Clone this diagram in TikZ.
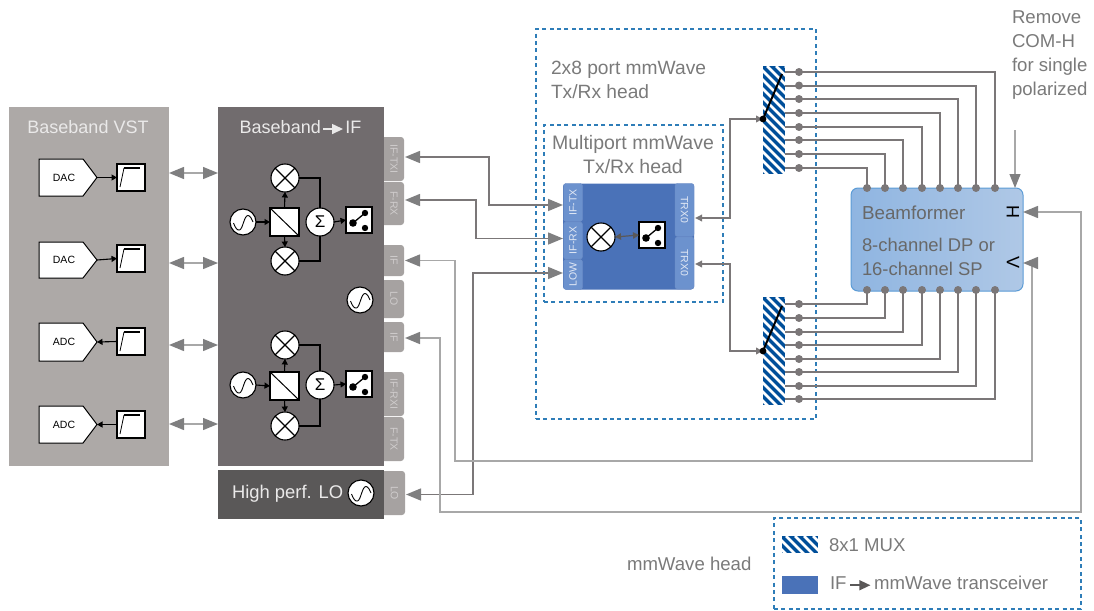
\documentclass[tikz,border=0pt]{standalone}
\usepackage{fontspec}
\usepackage{graphicx}
\setmainfont{Liberation Sans}
\usetikzlibrary{arrows.meta,calc}
\definecolor{txtg}{HTML}{7A7A7A}
\definecolor{vstg}{HTML}{ADA9A7}
\definecolor{bbg}{HTML}{716C6E}
\definecolor{hpg}{HTML}{5A5858}
\definecolor{tabg}{HTML}{A6A2A1}
\definecolor{tabt}{HTML}{CFCCCC}
\definecolor{dashb}{HTML}{2E7DB8}
\definecolor{hatchb}{HTML}{004F9A}
\definecolor{trc}{HTML}{4A72B8}
\definecolor{trct}{HTML}{6C92CE}
\definecolor{headg}{HTML}{7F7F80}
\definecolor{lineg}{HTML}{A8A8A8}
\definecolor{busg}{HTML}{7B7778}
\definecolor{bfl}{HTML}{8FB5E1}
\definecolor{bfr}{HTML}{AFC8E6}
\definecolor{bfe}{HTML}{5B9BD5}
\tikzset{
  x=1pt,y=-1pt,
  every node/.style={inner sep=0pt,outer sep=0pt},
  block/.style={rectangle,anchor=north west},
  tabbox/.style={rectangle,rounded corners=3,fill=tabg,text=tabt,font=\fontsize{10.5}{10.5}\selectfont,anchor=north west},
  trtab/.style={rectangle,rounded corners=2.5,fill=trct,draw=trc!80!white,line width=.4,text=white!80!trct,font=\fontsize{10.5}{10.5}\selectfont,anchor=north west},
  lab/.style={text=txtg,font=\fontsize{18.6}{24}\selectfont,anchor=west,align=left},
  ltlab/.style={text=white!85!bbg,font=\fontsize{18}{24}\selectfont},
  dashbox/.style={draw=dashb,line width=1.1,dash pattern=on 4pt off 3.4pt},
  wcirc/.style={circle,draw=black,line width=1.1,fill=white,minimum size=#1},
  wbox/.style={rectangle,draw=black,line width=1.1,fill=white,anchor=north west},
  sig/.style={draw=black,line width=1.1,-{Triangle[length=5.5,width=6]}},
  sigline/.style={draw=black,line width=1.2},
  dual/.style={draw=lineg,line width=1.3,{Triangle[length=15,width=12,color=headg]}-{Triangle[length=15,width=12,color=headg]}},
  iflink/.style={draw=lineg,line width=1.5,{Triangle[length=15,width=12,color=headg]}-{Triangle[length=15,width=12,color=headg]}},
  ifdual/.style={draw=busg,line width=1.5,{Triangle[length=15,width=12,color=headg]}-{Triangle[length=15,width=12,color=headg]}},
  bus/.style={draw=busg,line width=2},
  trxlink/.style={draw=busg,line width=2,{Triangle[length=7,width=6.5,color=busg]}-{Triangle[length=7,width=6.5,color=busg]}},
  dot/.style={circle,fill=busg,minimum size=8},
  convbox/.style={minimum width=58,anchor=north west},
  convtext/.style={text=black,font=\fontsize{10.5}{10.5}\selectfont},
}
\newcommand{\mixer}[3]{%
  \node[wcirc=28] (#1) at (#2,#3) {};
  \draw[black,line width=1.1] (#1.north west) -- (#1.south east) (#1.north east) -- (#1.south west);}
\newcommand{\osc}[3]{%
  \node[wcirc=26] (#1) at (#2,#3) {};
  \begin{scope}[shift={(#1.center)}]
  \draw[black,line width=.9] (-9.5,1) .. controls (-7.5,6.5) and (-5.5,8.5) .. (-3.5,8) .. controls (0,7) and (1,-6.5) .. (5,-6.5) .. controls (7,-6.5) and (9,-3) .. (10,0);
  \end{scope}}
\newcommand{\splitter}[3]{%
  \node[wbox,minimum width=29,minimum height=28] (#1) at (#2,#3) {};
  \draw[black,line width=1] (#1.north west) -- (#1.south east);}
\newcommand{\sumnode}[3]{%
  \node[wcirc=28,text=black,font=\fontsize{17}{17}\selectfont] (#1) at (#2,#3) {Σ};}
\newcommand{\switchb}[3]{%
  \node[wbox,minimum width=26,minimum height=26] (#1) at (#2,#3) {};
  \begin{scope}[shift={(#1.center)}]
  \draw[black,line width=1.3] (-6,3) -- (6,-7);
  \fill[black] (-6,3) circle (3.8) (6,-7) circle (3.2) (6,8) circle (3.2);
  \end{scope}}
\newcommand{\filt}[3]{%
  \node[wbox,minimum width=28,minimum height=27] (#1) at (#2,#3) {};
  \begin{scope}[shift={(#1.north west)}]
  \draw[black,line width=.8] (3,23) -- (7,4);
  \draw[black,line width=1.6] (7,4) -- (23,4);
  \end{scope}}
\newcommand{\hatchrect}[5]{%
  \node[block,fill=hatchb,minimum width=#4,minimum height=#5] (#1) at (#2,#3) {};
  \begin{scope}
  \clip (#2,#3) rectangle ++(#4,#5);
  \foreach \k in {-140,-131,...,140} {
    \draw[white,line width=2.6] ({#2+\k},#3) -- ++(150,150);
  }
  \end{scope}}
\newcommand{\conv}[5]{% name, x, y, h, text
  \node[convbox,minimum height=#4] (#1) at (#2,#3) {};
  \filldraw[draw=black,fill=white,line width=1] (#1.north west) -- ([xshift=-14pt]#1.north east) -- (#1.east) -- ([xshift=-14pt]#1.south east) -- (#1.south west) -- cycle;
  \node[convtext] (#1t) at ([xshift=-4pt]#1.center) {#5};}
\newcommand{\midarrow}[1]{\raisebox{.5pt}{\tikz[baseline=-3.5pt]\draw[#1,line width=1.5,-{Triangle[length=11,width=10]}] (0,0) -- (20,0);}}
\begin{document}
\begin{tikzpicture}
\useasboundingbox (0,0) rectangle (1094,610);
% dashed frames
\node[block,dashbox,minimum width=280,minimum height=390] (head) at (536,29) {};
\node[block,dashbox,minimum width=179,minimum height=177] (multi) at (544,125) {};
\node[block,dashbox,minimum width=307,minimum height=91] (legend) at (774,518) {};
% tabs
\node[tabbox,minimum width=24,minimum height=44] (t1) at (380,137) {\hspace*{4pt}\rotatebox{-90}{IF-TXI}};
\node[tabbox,minimum width=24,minimum height=43] (t2) at (380,182) {\hspace*{4pt}\rotatebox{-90}{F-RX}};
\node[tabbox,minimum width=24,minimum height=31] (t3) at (380,245) {\hspace*{4pt}\rotatebox{-90}{IF}};
\node[tabbox,minimum width=24,minimum height=38] (t4) at (380,280) {\hspace*{4pt}\rotatebox{-90}{LO}};
\node[tabbox,minimum width=24,minimum height=30] (t5) at (380,322) {\hspace*{4pt}\rotatebox{-90}{IF}};
\node[tabbox,minimum width=24,minimum height=44] (t6) at (380,372) {\hspace*{4pt}\rotatebox{-90}{IF-RXI}};
\node[tabbox,minimum width=24,minimum height=44] (t7) at (380,417) {\hspace*{4pt}\rotatebox{-90}{F-TX}};
\node[tabbox,minimum width=25,minimum height=44] (t8) at (380,471) {\hspace*{4pt}\rotatebox{-90}{LO}};
% big blocks
\node[block,fill=vstg,minimum width=160,minimum height=359] (vst) at (9,107) {};
\node[block,fill=bbg,minimum width=166,minimum height=359] (bb) at (218,107) {};
\node[block,fill=hpg,minimum width=166,minimum height=49] (hp) at (218,470) {};
\node[ltlab] (vsttitle) at (88,127) {Baseband VST};
\node[ltlab] (bbtitle) at (300.5,127) {Baseband\kern1.5pt\midarrow{white!85!bbg}\kern1.5pt IF};
\node[ltlab,anchor=west,font=\fontsize{18.4}{24}\selectfont] (hptitle) at (232,494) {High perf. LO};
% converters
\conv{dac1}{39}{159}{37}{DAC}
\conv{dac2}{39}{242}{36}{DAC}
\conv{adc1}{39}{323}{38}{ADC}
\conv{adc2}{39}{406}{37}{ADC}
\filt{f1}{117}{164}
\filt{f2}{117}{245}
\filt{f3}{117}{328}
\filt{f4}{117}{411}
\draw[sig] (dac1.east) -- (f1.west);
\draw[sig] (dac2.east) -- (f2.west);
\draw[sig] (f3.west) -- (adc1.east);
\draw[sig] (f4.west) -- (adc2.east);
% VST to baseband arrows
\foreach \yy in {173,263,345,424} {
  \coordinate (la) at (169,\yy);
  \coordinate (lb) at (218,\yy);
  \draw[dual] (la) -- (lb);
}
% upper IQ chain
\mixer{ma}{285}{178}
\mixer{mb}{285}{261}
\osc{oa}{243}{222}
\splitter{sa}{270}{208}
\sumnode{ea}{320}{222}
\switchb{wa}{346}{207}
\draw[sig] (oa.east) -- (sa.west);
\draw[sig] (sa.north) -- (ma.south);
\draw[sig] (sa.south) -- (mb.north);
\draw[sigline] (ma.east) -| (ea.north);
\draw[sigline] (mb.east) -| (ea.south);
\draw[sig] (ea.east) -- (wa.west);
% lower IQ chain
\mixer{mc}{285}{345}
\mixer{md}{285}{426}
\osc{ob}{243}{385}
\splitter{sb}{270}{372}
\sumnode{eb}{320}{385}
\switchb{wb}{346}{371}
\draw[sig] (ob.east) -- (sb.west);
\draw[sig] (sb.north) -- (mc.south);
\draw[sig] (sb.south) -- (md.north);
\draw[sigline] (mc.east) -| (eb.north);
\draw[sigline] (md.east) -| (eb.south);
\draw[sig] (eb.east) -- (wb.west);
\osc{oc}{360}{300}
\osc{od}{361}{493}
% transceiver
\node[block,fill=trc,minimum width=131,minimum height=106,rounded corners=3] (trx) at (563,183.5) {};
\node[trtab,minimum width=19,minimum height=38] (itx) at (563.5,183.5) {\rotatebox{90}{IF-TX}};
\node[trtab,minimum width=19,minimum height=37] (irx) at (563.5,222) {\rotatebox{90}{IF-RX}};
\node[trtab,minimum width=19,minimum height=30] (ilo) at (563.5,259.5) {\rotatebox{90}{LOW}};
\node[trtab,minimum width=19,minimum height=53] (ro1) at (675,183.5) {\rotatebox{-90}{TRX0}};
\node[trtab,minimum width=19,minimum height=52] (ro2) at (675,237) {\rotatebox{-90}{TRX0}};
\mixer{mt}{601}{237}
\switchb{wt}{639}{222}
\draw[draw=hpg,line width=1.2,{Triangle[length=6,width=6.5,color=hpg]}-{Triangle[length=6,width=6.5,color=hpg]}] (mt.east) -- (wt.west);
% links baseband <-> transceiver
\coordinate (k1) at (489,180);
\coordinate (k2) at (476,220);
\coordinate (k3) at (473,400);
\draw[ifdual] ([xshift=1pt,yshift=2pt]t1.east) -| (k1) |- ([xshift=-.5pt,yshift=-2.5pt]itx.west);
\draw[ifdual] ([xshift=1pt,yshift=3.5pt]t2.east) -| (k2) |- ([xshift=-.5pt,yshift=2pt]irx.west);
\draw[ifdual] ([xshift=1pt,yshift=-1.5pt]t8.east) -| (k3) |- ([xshift=-.5pt,yshift=1.5pt]ilo.west);
% MUXes
\hatchrect{mux1}{763}{66}{22}{108}
\hatchrect{mux2}{763}{297}{22}{108}
% beamformer
\node[block,minimum width=172,minimum height=103,rounded corners=7,left color=bfl,right color=bfr,draw=bfe,line width=1] (bf) at (851,188) {};
\node[text=txtg!85!black,font=\fontsize{18.8}{24}\selectfont,anchor=west] (bft) at (862,213) {Beamformer};
\node[text=txtg!85!black,font=\fontsize{18.4}{24}\selectfont,anchor=north west,align=left] (bfs) at (862,238.5) {8-channel DP or\\16-channel SP};
\node[text=black,font=\fontsize{18}{18}\selectfont] (bfh) at (1013,212) {\rotatebox{90}{H}};
\node[text=black,font=\fontsize{18}{18}\selectfont] (bfv) at (1013,263) {\rotatebox{-90}{V}};
% MUX traces
\foreach \i/\yy/\xx in {1/72/995,2/85.5/976,3/99/958,4/113/940,5/127/922,6/140/903,7/154/885,8/168/867} {
  \coordinate (pu\i) at (785,\yy);
  \coordinate (qu\i) at (\xx,188);
  \draw[bus] (pu\i) -| (qu\i);
  \node[dot] (du\i) at (799,\yy) {};
  \node[dot] (eu\i) at (\xx,188) {};
}
\foreach \i/\yy/\xx in {1/304/867,2/318/885,3/332/903,4/345/922,5/359/940,6/372/958,7/386/976,8/399/995} {
  \coordinate (pl\i) at (785,\yy);
  \coordinate (ql\i) at (\xx,290);
  \draw[bus] (pl\i) -| (ql\i);
  \node[dot] (dl\i) at (799,\yy) {};
  \node[dot] (el\i) at (\xx,290) {};
}
% switch arms
\coordinate (au) at (763,119);
\coordinate (bu) at (782,74);
\coordinate (al) at (763,351);
\coordinate (bl) at (782,306);
\draw[black,line width=2] (au) -- (bu);
\draw[black,line width=2] (al) -- (bl);
% TRX to MUX
\coordinate (k4) at (730,160);
\coordinate (k5) at (730,300);
\draw[trxlink] ([xshift=1pt,yshift=-8pt]ro1.east) -| (k4) |- (au);
\draw[trxlink] ([xshift=1pt,yshift=-1pt]ro2.east) -| (k5) |- (al);
\fill[black] (au) circle (3.4) (al) circle (3.4);
% long links from beamformer
\coordinate (c3a) at (455,400);
\coordinate (c3b) at (1032,461);
\draw[iflink] (bf.east |- bfv) -- (1032,263) -- (c3b) -| (c3a) |- ([xshift=1pt]t3.east);
\coordinate (c5a) at (440,420);
\coordinate (c5b) at (1081,512);
\draw[iflink] (bf.east |- bfh) -- (1081,212) -- (c5b) -| (c5a) |- ([xshift=1pt,yshift=-1pt]t5.east);
% labels
\node[lab] (n1) at (1012,55) {\begin{tabular}{@{}l@{}}Remove\\[0pt]COM-H\\[0pt]for single\\[0pt]polarized\end{tabular}};
\coordinate (rm) at (1015,130);
\draw[draw=lineg,line width=1.1,-{Triangle[length=14,width=11,color=headg]}] (rm) -- (rm |- bf.north);
\node[lab,anchor=north west,font=\fontsize{19.2}{24}\selectfont] (n2) at (551,61) {2x8 port mmWave\\Tx/Rx head};
\node[lab,anchor=north,align=center,font=\fontsize{19.5}{24}\selectfont] (n3) at (633,135.5) {Multiport mmWave\\Tx/Rx head};
\node[lab] (n4) at (627,564) {mmWave head};
% legend
\hatchrect{lh}{782}{536}{36}{17}
\node[block,fill=trc,minimum width=36,minimum height=18] (lt) at (782,576) {};
\node[lab] (n5) at (829,545) {8x1 MUX};
\node[lab] (n6) at (830,583) {IF\,\midarrow{hpg}\,mmWave transceiver};
\end{tikzpicture}
\end{document}
